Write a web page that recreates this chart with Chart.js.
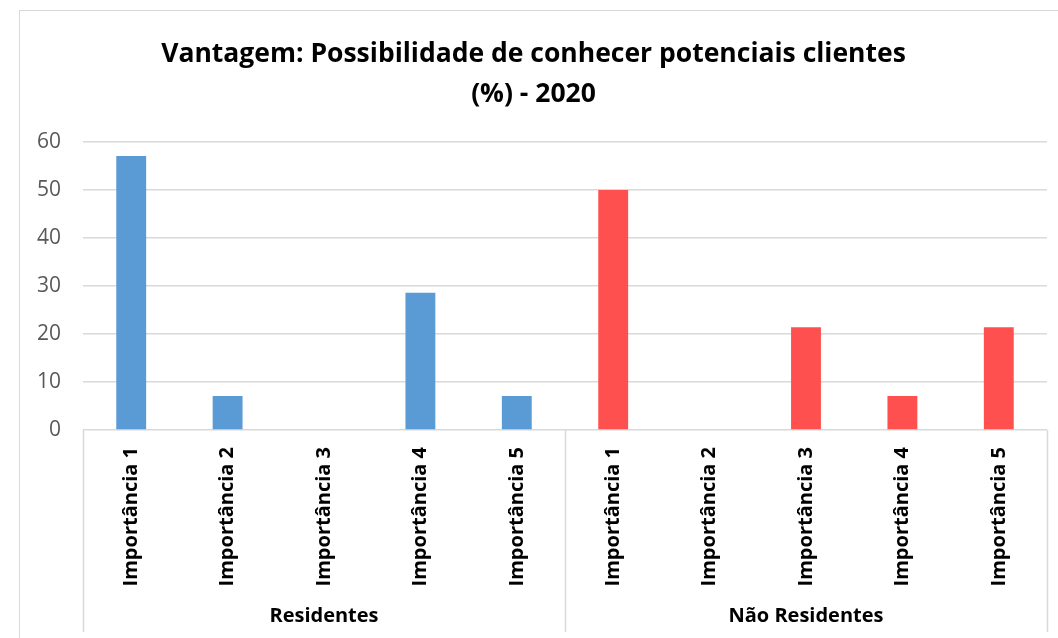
<!DOCTYPE html>
<html>
<head>
<meta charset="utf-8">
<script src="https://cdn.jsdelivr.net/npm/chart.js@4/dist/chart.umd.min.js"></script>
<style>
  html, body { margin: 0; padding: 0; background: #fff; overflow: hidden; }
  #caixa {
    position: absolute; left: 19px; top: 10px;
    width: 1060px; height: 640px;
    border: 1px solid #d9d9d9;
  }
</style>
</head>
<body>
<div id="caixa"><canvas id="grafico"></canvas></div>
<script>
// dados do grafico
const categorias = ['Importância 1', 'Importância 2', 'Importância 3', 'Importância 4', 'Importância 5'];
const grupos = ['Residentes', 'Não Residentes'];
const residentes = [57.1, 7.1, 0, 28.6, 7.1];
const naoResidentes = [50, 0, 21.4, 7.1, 21.4];
const ticksY = [0, 10, 20, 30, 40, 50, 60];

// cores
const corAzul = '#5B9BD5';
const corVermelha = '#FF5050';
const corGrade = '#d9d9d9';

const labels = categorias.concat(categorias);
const vazio = categorias.map(() => null);

// separadores e nomes dos grupos em baixo do eixo
const gruposPlugin = {
  id: 'grupos',
  afterDraw(chart) {
    const ctx = chart.ctx;
    const area = chart.chartArea;
    const n = labels.length;
    const passo = (area.right - area.left) / n;
    ctx.save();
    ctx.strokeStyle = corGrade;
    ctx.lineWidth = 1.5;
    [0, categorias.length, n].forEach((i) => {
      const x = Math.round(area.left + i * passo) + 0.5;
      ctx.beginPath();
      ctx.moveTo(x, area.bottom);
      ctx.lineTo(x, 621);
      ctx.stroke();
    });
    ctx.fillStyle = '#000';
    ctx.font = 'bold 20px "Open Sans"';
    ctx.textAlign = 'center';
    ctx.textBaseline = 'middle';
    grupos.forEach((g, k) => {
      const x0 = area.left + k * categorias.length * passo;
      const x1 = x0 + categorias.length * passo;
      ctx.fillText(g, (x0 + x1) / 2, 605);
    });
    ctx.restore();
  }
};

new Chart(document.getElementById('grafico').getContext('2d'), {
  type: 'bar',
  data: {
    labels: labels,
    datasets: [
      { label: grupos[0], data: residentes.concat(vazio), backgroundColor: corAzul },
      { label: grupos[1], data: vazio.concat(naoResidentes), backgroundColor: corVermelha }
    ]
  },
  options: {
    responsive: true,
    maintainAspectRatio: false,
    animation: false,
    layout: { padding: { left: 0, right: 33, top: 0, bottom: 0 } },
    datasets: { bar: { categoryPercentage: 1, barPercentage: 0.31 } },
    plugins: {
      legend: { display: false },
      tooltip: { enabled: false },
      title: {
        display: true,
        text: ['Vantagem: Possibilidade de conhecer potenciais clientes', '(%) - 2020'],
        color: '#000',
        font: { family: 'Open Sans', size: 26.5, weight: 'bold', lineHeight: 1.51 },
        padding: { top: 23, bottom: 28 }
      }
    },
    scales: {
      x: {
        stacked: true,
        grid: { display: false, drawTicks: false },
        border: { display: false },
        ticks: {
          autoSkip: false,
          minRotation: 90,
          maxRotation: 90,
          padding: 17,
          color: '#000',
          font: { family: 'Open Sans', size: 20, weight: 'bold' }
        },
        afterFit(scale) { scale.height = 221; }
      },
      y: {
        min: 0,
        max: 60,
        afterBuildTicks(scale) { scale.ticks = ticksY.map(v => ({ value: v })); },
        grid: { color: corGrade, lineWidth: 1.5, drawTicks: false },
        border: { display: false },
        ticks: {
          padding: 22,
          color: '#595959',
          font: { family: 'Open Sans', size: 21 }
        },
        afterFit(scale) { scale.width = 63; }
      }
    }
  },
  plugins: [gruposPlugin]
});
</script>
</body>
</html>
